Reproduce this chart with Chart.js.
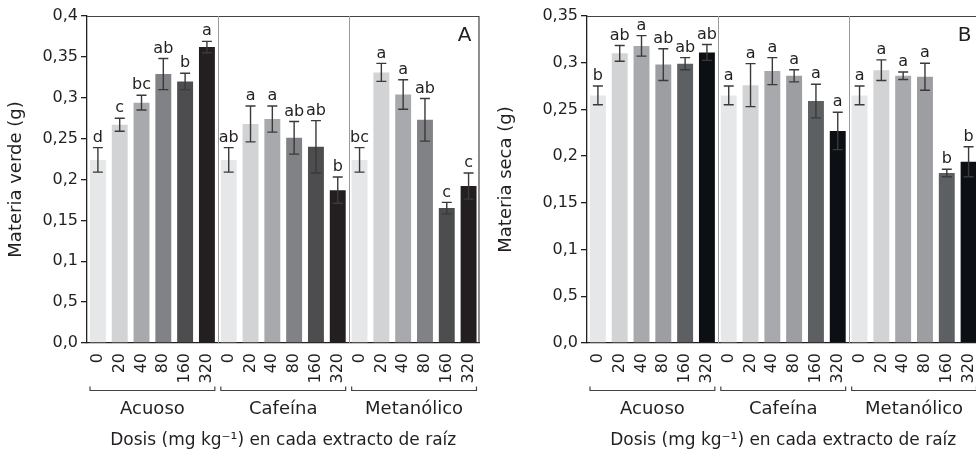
<!DOCTYPE html>
<html>
<head>
<meta charset="utf-8">
<script src="https://cdn.jsdelivr.net/npm/chart.js@4.4.1/dist/chart.umd.min.js"></script>
<style>
  html, body { margin: 0; padding: 0; background: #fff; overflow: hidden; }
  #wrapA { position: absolute; left: 0; top: 0; width: 490px; height: 451px; }
  #wrapB { position: absolute; left: 490px; top: 0; width: 500px; height: 451px; }
</style>
</head>
<body>
<div id="wrapA"><canvas id="graficoVerde"></canvas></div>
<div id="wrapB"><canvas id="graficoSeca"></canvas></div>
<script>
// datos
var grupos = ["Acuoso", "Cafeína", "Metanólico"];
var dosis = ["0", "20", "40", "80", "160", "320"];

var verde = [0.224, 0.267, 0.294, 0.329, 0.320, 0.362,
             0.224, 0.268, 0.274, 0.251, 0.240, 0.187,
             0.224, 0.331, 0.304, 0.273, 0.165, 0.192];
var verdeErr = [0.015, 0.008, 0.009, 0.019, 0.010, 0.007,
                0.015, 0.022, 0.016, 0.020, 0.032, 0.016,
                0.015, 0.011, 0.018, 0.026, 0.007, 0.016];
var verdeLetras = ["d", "c", "bc", "ab", "b", "a",
                   "ab", "a", "a", "ab", "ab", "b",
                   "bc", "a", "a", "ab", "c", "c"];

var seca = [0.265, 0.310, 0.318, 0.298, 0.299, 0.311,
            0.265, 0.276, 0.291, 0.286, 0.259, 0.227,
            0.265, 0.292, 0.286, 0.285, 0.182, 0.194];
var secaErr = [0.010, 0.0085, 0.011, 0.017, 0.0065, 0.0085,
               0.010, 0.023, 0.0145, 0.0065, 0.018, 0.020,
               0.010, 0.011, 0.004, 0.0145, 0.004, 0.016];
var secaLetras = ["b", "ab", "a", "ab", "ab", "ab",
                  "a", "a", "a", "a", "a", "a",
                  "a", "a", "a", "a", "b", "b"];

var ticksVerde = ["0,0", "0,5", "0,1", "0,15", "0,2", "0,25", "0,3", "0,35", "0,4"];
var ticksSeca = ["0,0", "0,5", "0,1", "0,15", "0,2", "0,25", "0,3", "0,35"];

var coresVerde = ["#e6e7e8", "#d1d3d4", "#a7a9ac", "#808285", "#4d4d4f", "#231f20"];
var coresSeca = ["#e6e7e8", "#d1d3d4", "#a7a9ac", "#9c9ea1", "#5d6062", "#0c1014"];

var fonte = "'DejaVu Sans', sans-serif";
var corTexto = "#231f20";

var labels = [];
grupos.forEach(function() { dosis.forEach(function(d) { labels.push(d); }); });

function repetirCores(cores) {
    var out = [];
    grupos.forEach(function() { cores.forEach(function(c) { out.push(c); }); });
    return out;
}

// barras de error, letras, separadores, llaves de grupo y letra del panel
var extras = {
    id: "extras",
    afterDatasetsDraw: function(chart, args, opts) {
        var ctx = chart.ctx;
        var x = chart.scales.x, y = chart.scales.y;
        var area = chart.chartArea;
        var meta = chart.getDatasetMeta(0);
        var valores = chart.data.datasets[0].data;
        ctx.save();

        // marco superior y derecho
        ctx.strokeStyle = "#444";
        ctx.lineWidth = 1.2;
        ctx.beginPath();
        ctx.moveTo(area.left, area.top + 0.5);
        ctx.lineTo(area.right - 0.5, area.top + 0.5);
        ctx.lineTo(area.right - 0.5, area.bottom);
        ctx.stroke();

        // separadores entre extractos
        ctx.strokeStyle = "#9a9a9a";
        ctx.lineWidth = 1;
        for (var g = 1; g < grupos.length; g++) {
            var i = g * dosis.length;
            var sx = Math.round((x.getPixelForValue(i - 1) + x.getPixelForValue(i)) / 2) + 0.5;
            ctx.beginPath();
            ctx.moveTo(sx, area.top);
            ctx.lineTo(sx, area.bottom);
            ctx.stroke();
        }

        // error
        ctx.strokeStyle = "#3a3a3a";
        ctx.lineWidth = 1.4;
        ctx.fillStyle = corTexto;
        ctx.font = "16px " + fonte;
        ctx.textAlign = "center";
        ctx.textBaseline = "bottom";
        meta.data.forEach(function(bar, k) {
            var v = valores[k], e = opts.err[k];
            var yt = y.getPixelForValue(v + e);
            var yb = y.getPixelForValue(v - e);
            ctx.beginPath();
            ctx.moveTo(bar.x, yt); ctx.lineTo(bar.x, yb);
            ctx.moveTo(bar.x - 5, yt); ctx.lineTo(bar.x + 5, yt);
            ctx.moveTo(bar.x - 5, yb); ctx.lineTo(bar.x + 5, yb);
            ctx.stroke();
            ctx.fillText(opts.letras[k], bar.x, yt - 2);
        });

        // llaves y nombres de grupo
        ctx.strokeStyle = "#444";
        ctx.lineWidth = 1.2;
        ctx.font = "18px " + fonte;
        ctx.textBaseline = "middle";
        var half = (x.getPixelForValue(1) - x.getPixelForValue(0)) / 2;
        grupos.forEach(function(nome, g) {
            var a = x.getPixelForValue(g * dosis.length) - half + 3;
            var b = x.getPixelForValue(g * dosis.length + dosis.length - 1) + half - 3;
            var by = x.top + 47.5;
            ctx.beginPath();
            ctx.moveTo(a, by - 4); ctx.lineTo(a, by); ctx.lineTo(b, by); ctx.lineTo(b, by - 4);
            ctx.stroke();
            ctx.fillText(nome, (a + b) / 2, x.top + 66);
        });

        // letra del panel
        ctx.font = "20px " + fonte;
        ctx.textAlign = "right";
        ctx.textBaseline = "top";
        ctx.fillText(opts.panel, area.right - 8, area.top + 10);
        ctx.restore();
    }
};

function crearGrafico(id, datos, err, letras, cores, ticks, maxY, tituloY, panel, anchoY) {
    var ctx = document.getElementById(id).getContext("2d");
    return new Chart(ctx, {
        type: "bar",
        data: {
            labels: labels,
            datasets: [{
                data: datos,
                backgroundColor: repetirCores(cores),
                categoryPercentage: 1.0,
                barPercentage: 0.73
            }]
        },
        options: {
            responsive: true,
            maintainAspectRatio: false,
            animation: false,
            layout: { padding: { top: 16, right: 8, left: 0, bottom: 0 } },
            plugins: {
                legend: { display: false },
                tooltip: { enabled: false },
                extras: { err: err, letras: letras, panel: panel }
            },
            scales: {
                x: {
                    grid: { display: false },
                    border: { display: true, color: corTexto, width: 1.3 },
                    ticks: {
                        color: corTexto, font: { family: fonte, size: 16 },
                        minRotation: 90, maxRotation: 90, padding: 2, autoSkip: false
                    },
                    title: {
                        display: true,
                        text: "Dosis (mg kg⁻¹) en cada extracto de raíz",
                        color: corTexto, font: { family: fonte, size: 17 },
                        padding: { top: 0, bottom: 0 }
                    },
                    afterFit: function(s) { s.height = 108; }
                },
                y: {
                    min: 0, max: maxY,
                    grid: { display: true, drawOnChartArea: false, drawTicks: true, tickLength: 6, color: corTexto, lineWidth: 1.3 },
                    border: { display: true, color: corTexto, width: 1.3 },
                    ticks: {
                        stepSize: 0.05, color: corTexto, font: { family: fonte, size: 16 }, padding: 3,
                        callback: function(v, i) { return ticks[i]; }
                    },
                    title: {
                        display: true, text: tituloY, color: corTexto,
                        font: { family: fonte, size: 18 }, padding: { top: 6, bottom: 0 }
                    },
                    afterFit: function(s) { s.width = anchoY; }
                }
            }
        },
        plugins: [extras]
    });
}

crearGrafico("graficoVerde", verde, verdeErr, verdeLetras, coresVerde, ticksVerde, 0.4, "Materia verde (g)", "A", 87);
crearGrafico("graficoSeca", seca, secaErr, secaLetras, coresSeca, ticksSeca, 0.35, "Materia seca (g)", "B", 97);
</script>
</body>
</html>
